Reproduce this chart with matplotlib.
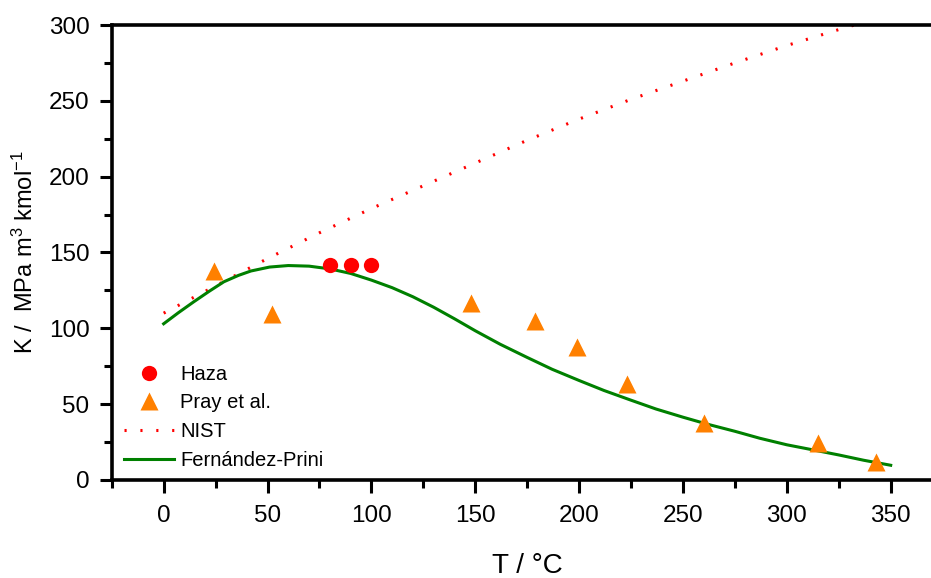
import matplotlib
matplotlib.use("Agg")
import matplotlib.pyplot as plt
from matplotlib.ticker import MultipleLocator

plt.rcParams['font.family'] = ['Liberation Sans', 'DejaVu Sans']
plt.rcParams['mathtext.fontset'] = 'custom'
plt.rcParams['mathtext.rm'] = 'Liberation Sans'
plt.rcParams['mathtext.it'] = 'Liberation Sans'
plt.rcParams['axes.unicode_minus'] = False

# Haza measurements
haza_t = [80, 90, 100]
haza_k = [141.7, 141.7, 141.8]

# Pray et al. measurements
pray_t = [24, 52, 148, 179, 199, 223, 260, 315, 343]
pray_k = [137.8, 109.4, 117, 105, 88, 63, 37.4, 24.3, 12]

# NIST correlation
nist_t = [0, 25, 50, 75, 100, 125, 150, 175, 200, 225, 250, 275, 300, 325, 350]
nist_k = [110, 128, 146, 163, 179, 194, 209, 224, 238, 251, 263, 275, 286.5, 297, 307]

# Fernandez-Prini correlation
fp_t = [0, 7, 14.5, 22, 29, 36, 42, 51, 60, 70, 80, 90, 100, 110, 120, 130, 140,
        150, 162, 175, 187, 200, 212, 225, 237, 250, 262, 275, 287, 300, 312,
        325, 337, 350]
fp_k = [103, 110.2, 117.5, 124.5, 130.7, 134.9, 137.8, 140.4, 141.4, 141, 139.2,
        136.2, 131.8, 126.8, 120.8, 113.9, 106.3, 98.4, 89.5, 80.8, 73, 65.6, 59,
        52.6, 46.8, 41.4, 36.7, 32.1, 27.5, 23.2, 20, 16.5, 13, 9.7]

fig = plt.figure(figsize=(9.31, 5.78), dpi=100)
ax = fig.add_axes([0.12, 0.1696, 0.8925, 0.7871])

ax.plot(nist_t, nist_k, color='red', lw=2.2, linestyle=(0, (0.7, 4.5)),
        label='NIST', zorder=2)
ax.plot(fp_t, fp_k, color='#008000', lw=2.2, label='Fernández-Prini', zorder=3)
ax.plot(haza_t, haza_k, 'o', color='red', ms=11, mec='none', label='Haza', zorder=4)
ax.plot(pray_t, pray_k, '^', color='#ff8000', ms=13, mec='none',
        label='Pray et al.', zorder=4)

ax.set_xlim(-25, 375)
ax.set_ylim(0, 300)
ax.xaxis.set_major_locator(MultipleLocator(50))
ax.xaxis.set_minor_locator(MultipleLocator(25))
ax.yaxis.set_major_locator(MultipleLocator(50))
ax.yaxis.set_minor_locator(MultipleLocator(25))

ax.spines['right'].set_visible(False)
for s in ['left', 'bottom', 'top']:
    ax.spines[s].set_linewidth(2.6)
ax.tick_params(which='both', direction='out', top=False, right=False,
               width=2.2, labelsize=17.5)
ax.tick_params(which='major', length=9)
ax.tick_params(which='minor', length=6)
ax.tick_params(axis='x', which='major', pad=9)
ax.tick_params(axis='y', which='major', pad=7)

ax.set_xlabel('T / °C', fontsize=20, labelpad=19)
ax.set_ylabel('K /  MPa m$^3$ kmol$^{-1}$', fontsize=17, labelpad=8)

handles, labels = ax.get_legend_handles_labels()
order = [2, 3, 0, 1]
ax.legend([handles[i] for i in order], [labels[i] for i in order],
          loc='upper left', bbox_to_anchor=(0.0, 0.28), frameon=False,
          fontsize=14.5, handlelength=2.5, handletextpad=0.3,
          labelspacing=0.48, borderaxespad=0.2)

fig.savefig('out.png', dpi=100)
